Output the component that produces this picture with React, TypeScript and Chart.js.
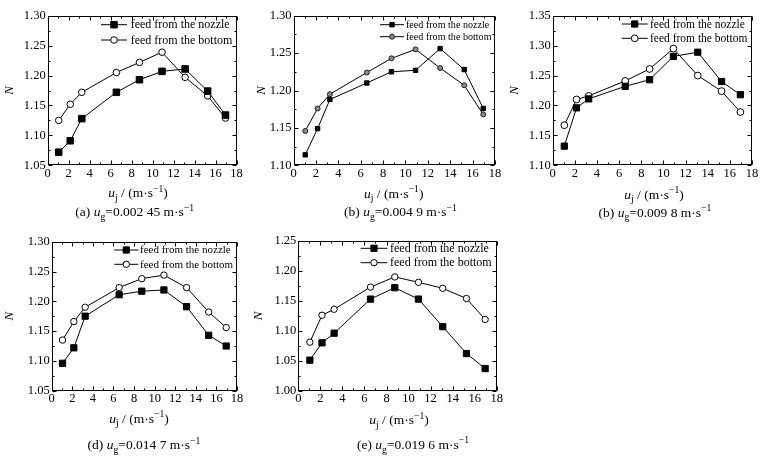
import React, { useEffect, useRef } from 'react';
import { Chart, registerables } from 'chart.js';

Chart.register(...registerables);

// ---------------- data ----------------
const UJ = [1.05, 2.15, 3.25, 6.55, 8.75, 10.9, 13.1, 15.25, 16.95];
const X_TICKS = [0, 2, 4, 6, 8, 10, 12, 14, 16, 18];
const SERIES_LABELS = ['feed from the nozzle', 'feed from the bottom'];
const PANEL_LETTERS = ['(a)', '(b)', '(b)', '(d)', '(e)'];
const UG_VALUES = ['0.002 45', '0.004 9', '0.009 8', '0.014 7', '0.019 6'];

const A_NOZZLE = [1.072, 1.091, 1.128, 1.172, 1.193, 1.207, 1.211, 1.174, 1.134];
const A_BOTTOM = [1.125, 1.152, 1.172, 1.205, 1.222, 1.239, 1.197, 1.166, 1.129];
const A_Y_TICKS = [1.05, 1.1, 1.15, 1.2, 1.25, 1.3];

const B_NOZZLE = [1.114, 1.149, 1.188, 1.21, 1.225, 1.227, 1.256, 1.228, 1.176];
const B_BOTTOM = [1.146, 1.176, 1.195, 1.224, 1.243, 1.255, 1.23, 1.207, 1.168];
const B_Y_TICKS = [1.1, 1.15, 1.2, 1.25, 1.3];

const C_NOZZLE = [1.132, 1.196, 1.211, 1.232, 1.243, 1.282, 1.289, 1.24, 1.218];
const C_BOTTOM = [1.167, 1.21, 1.216, 1.241, 1.261, 1.295, 1.25, 1.224, 1.189];
const C_Y_TICKS = [1.1, 1.15, 1.2, 1.25, 1.3, 1.35];

const D_NOZZLE = [1.096, 1.122, 1.175, 1.211, 1.217, 1.219, 1.191, 1.143, 1.125];
const D_BOTTOM = [1.135, 1.166, 1.19, 1.223, 1.238, 1.244, 1.223, 1.182, 1.156];
const D_Y_TICKS = [1.05, 1.1, 1.15, 1.2, 1.25, 1.3];

const E_NOZZLE = [1.051, 1.08, 1.096, 1.153, 1.172, 1.153, 1.107, 1.062, 1.037];
const E_BOTTOM = [1.081, 1.126, 1.136, 1.173, 1.19, 1.181, 1.171, 1.154, 1.119];
const E_Y_TICKS = [1.0, 1.05, 1.1, 1.15, 1.2, 1.25];

// ---------------- layout (styles / positions only) ----------------
const FONT = '"Liberation Serif", "Times New Roman", serif';

type PanelCfg = {
  idx: number;
  nozzle: number[];
  bottom: number[];
  yTicks: number[];
  box: { left: number; top: number; width: number; height: number };
  plot: { l: number; r: number; t: number; b: number };
  nX: number;
  legend: { l: number; r: number; m: number; tx: number; rows: [number, number]; font: number };
  titleCx: number;
  titleBase: number;
  capCx: number;
  capBase: number;
  sqR: number;
  circR: number;
  circFill: string;
  circBorder: string;
};

const PANELS: PanelCfg[] = [
  {
    idx: 0, nozzle: A_NOZZLE, bottom: A_BOTTOM, yTicks: A_Y_TICKS,
    box: { left: 0, top: 0, width: 252, height: 225 },
    plot: { l: 47.7, r: 236.5, t: 15.7, b: 165.3 },
    nX: 10,
    legend: { l: 101, r: 127, m: 114, tx: 130.7, rows: [24.7, 40], font: 12 },
    titleCx: 138, titleBase: 197, capCx: 134.7, capBase: 216,
    sqR: 4.6, circR: 3.3, circFill: '#ffffff', circBorder: '#000000',
  },
  {
    idx: 1, nozzle: B_NOZZLE, bottom: B_BOTTOM, yTicks: B_Y_TICKS,
    box: { left: 252, top: 0, width: 252, height: 225 },
    plot: { l: 293.5, r: 495, t: 15.7, b: 165.3 },
    nX: 262,
    legend: { l: 380, r: 404, m: 392, tx: 406, rows: [24.7, 36.7], font: 10.1 },
    titleCx: 393.7, titleBase: 197.5, capCx: 400.5, capBase: 216,
    sqR: 3.1, circR: 2.5, circFill: '#8a8a8a', circBorder: '#222222',
  },
  {
    idx: 2, nozzle: C_NOZZLE, bottom: C_BOTTOM, yTicks: C_Y_TICKS,
    box: { left: 504, top: 0, width: 259, height: 225 },
    plot: { l: 552.7, r: 752, t: 15.7, b: 165.3 },
    nX: 515,
    legend: { l: 621.7, r: 647.7, m: 634.7, tx: 650, rows: [24, 38.3], font: 11.5 },
    titleCx: 654, titleBase: 198.5, capCx: 655, capBase: 216.5,
    sqR: 4.4, circR: 3.4, circFill: '#ffffff', circBorder: '#000000',
  },
  {
    idx: 3, nozzle: D_NOZZLE, bottom: D_BOTTOM, yTicks: D_Y_TICKS,
    box: { left: 0, top: 225, width: 252, height: 236 },
    plot: { l: 51.7, r: 237, t: 241.7, b: 390.7 },
    nX: 10,
    legend: { l: 114.3, r: 138.3, m: 126.3, tx: 140, rows: [250, 264.3], font: 11 },
    titleCx: 139, titleBase: 422.7, capCx: 144, capBase: 449.3,
    sqR: 4.4, circR: 3.2, circFill: '#ffffff', circBorder: '#000000',
  },
  {
    idx: 4, nozzle: E_NOZZLE, bottom: E_BOTTOM, yTicks: E_Y_TICKS,
    box: { left: 252, top: 225, width: 252, height: 236 },
    plot: { l: 298.3, r: 499.3, t: 241, b: 390.7 },
    nX: 259,
    legend: { l: 360.7, r: 387.3, m: 374, tx: 390, rows: [248.3, 262.7], font: 12 },
    titleCx: 399, titleBase: 424, capCx: 413, capBase: 448.8,
    sqR: 4.4, circR: 3.2, circFill: '#ffffff', circBorder: '#000000',
  },
];

type Seg = { t: string; it?: boolean; sub?: boolean; sup?: boolean };

function drawRich(ctx: CanvasRenderingContext2D, segs: Seg[], cx: number, baseY: number, size: number) {
  const fontFor = (s: Seg) =>
    `${s.it ? 'italic ' : ''}${s.sub || s.sup ? size * 0.72 : size}px ${FONT}`;
  const widths: number[] = [];
  let total = 0;
  for (const s of segs) {
    ctx.font = fontFor(s);
    const w = ctx.measureText(s.t).width;
    widths.push(w);
    total += w;
  }
  let x = cx - total / 2;
  ctx.textAlign = 'left';
  ctx.textBaseline = 'alphabetic';
  ctx.fillStyle = '#000';
  segs.forEach((s, i) => {
    ctx.font = fontFor(s);
    const y = baseY + (s.sub ? size * 0.28 : s.sup ? -size * 0.4 : 0);
    ctx.fillText(s.t, x, y);
    x += widths[i];
  });
}

function drawMarker(ctx: CanvasRenderingContext2D, kind: 'rect' | 'circle', x: number, y: number, r: number, fill: string, stroke: string) {
  ctx.save();
  ctx.fillStyle = fill;
  ctx.strokeStyle = stroke;
  ctx.lineWidth = 1;
  ctx.beginPath();
  if (kind === 'rect') {
    const h = r * Math.SQRT1_2;
    ctx.rect(x - h, y - h, 2 * h, 2 * h);
  } else {
    ctx.arc(x, y, r, 0, Math.PI * 2);
  }
  ctx.fill();
  ctx.stroke();
  ctx.restore();
}

function makeDecor(cfg: PanelCfg) {
  const ox = cfg.box.left;
  const oy = cfg.box.top;
  return {
    id: 'panelDecor' + cfg.idx,
    afterDraw(chart: any) {
      const ctx: CanvasRenderingContext2D = chart.ctx;
      const { left, right, top, bottom } = chart.chartArea;
      const xs = chart.scales.x;
      const ys = chart.scales.y;
      ctx.save();
      ctx.strokeStyle = '#000';
      ctx.lineWidth = 1;
      const L = Math.round(left) + 0.5;
      const R = Math.round(right) - 0.5;
      const T = Math.round(top) + 0.5;
      const B = Math.round(bottom) - 0.5;
      ctx.strokeRect(L, T, R - L, B - T);
      // ticks (inward), majors + minors at midpoints
      ctx.beginPath();
      const xt = xs.ticks.map((t: any) => t.value);
      xt.forEach((v: number, i: number) => {
        const px = Math.round(xs.getPixelForValue(v)) + 0.5;
        ctx.moveTo(px, B); ctx.lineTo(px, B - 4);
        ctx.moveTo(px, T); ctx.lineTo(px, T + 4);
        if (i < xt.length - 1) {
          const mx = Math.round(xs.getPixelForValue((v + xt[i + 1]) / 2)) + 0.5;
          ctx.moveTo(mx, B); ctx.lineTo(mx, B - 2);
          ctx.moveTo(mx, T); ctx.lineTo(mx, T + 2);
        }
      });
      const yt = ys.ticks.map((t: any) => t.value);
      yt.forEach((v: number, i: number) => {
        const py = Math.round(ys.getPixelForValue(v)) + 0.5;
        ctx.moveTo(L, py); ctx.lineTo(L + 4, py);
        ctx.moveTo(R, py); ctx.lineTo(R - 4, py);
        if (i < yt.length - 1) {
          const my = Math.round(ys.getPixelForValue((v + yt[i + 1]) / 2)) + 0.5;
          ctx.moveTo(L, my); ctx.lineTo(L + 2, my);
          ctx.moveTo(R, my); ctx.lineTo(R - 2, my);
        }
      });
      ctx.stroke();

      // legend
      const lg = cfg.legend;
      const kinds: ('rect' | 'circle')[] = ['rect', 'circle'];
      chart.data.datasets.forEach((ds: any, i: number) => {
        const y = lg.rows[i] - oy;
        ctx.beginPath();
        ctx.strokeStyle = ds.borderColor;
        ctx.lineWidth = 1;
        ctx.moveTo(lg.l - ox, y);
        ctx.lineTo(lg.r - ox, y);
        ctx.stroke();
        drawMarker(ctx, kinds[i], lg.m - ox, y, ds.pointRadius, ds.pointBackgroundColor, ds.pointBorderColor);
        ctx.fillStyle = '#000';
        ctx.font = `${lg.font}px ${FONT}`;
        ctx.textAlign = 'left';
        ctx.textBaseline = 'middle';
        ctx.fillText(ds.label, lg.tx - ox, y + 0.5);
      });

      // x-axis title and caption
      drawRich(ctx, [
        { t: 'u', it: true },
        { t: 'j', sub: true },
        { t: ' / (m·s' },
        { t: '−1', sup: true },
        { t: ')' },
      ], cfg.titleCx - ox, cfg.titleBase - oy, 13.5);
      drawRich(ctx, [
        { t: PANEL_LETTERS[cfg.idx] + ' ' },
        { t: 'u', it: true },
        { t: 'g', sub: true },
        { t: '=' + UG_VALUES[cfg.idx] + ' m·s' },
        { t: '−1', sup: true },
      ], cfg.capCx - ox, cfg.capBase - oy, 13.5);
      ctx.restore();
    },
  };
}

function Panel({ cfg }: { cfg: PanelCfg }) {
  const ref = useRef<HTMLCanvasElement | null>(null);
  useEffect(() => {
    const canvas = ref.current;
    if (!canvas) return;
    const { box, plot } = cfg;
    const yAxisW = plot.l - box.left;
    const xAxisH = 20;
    const padTop = plot.t - box.top;
    const padRight = box.left + box.width - plot.r;
    const padBottom = box.top + box.height - plot.b - xAxisH;
    const nTitlePad = cfg.nX - box.left - 13 * 1.2 / 2;

    const chart = new Chart(canvas, {
      type: 'line',
      data: {
        datasets: [
          {
            label: SERIES_LABELS[0],
            data: UJ.map((x, i) => ({ x, y: cfg.nozzle[i] })),
            borderColor: '#000000',
            borderWidth: 1,
            pointStyle: 'rect',
            pointRadius: cfg.sqR,
            pointBackgroundColor: '#000000',
            pointBorderColor: '#000000',
            pointBorderWidth: 1,
            tension: 0,
            fill: false,
          },
          {
            label: SERIES_LABELS[1],
            data: UJ.map((x, i) => ({ x, y: cfg.bottom[i] })),
            borderColor: '#000000',
            borderWidth: 1,
            pointStyle: 'circle',
            pointRadius: cfg.circR,
            pointBackgroundColor: cfg.circFill,
            pointBorderColor: cfg.circBorder,
            pointBorderWidth: 1,
            tension: 0,
            fill: false,
          },
        ],
      },
      options: {
        responsive: false,
        animation: false,
        devicePixelRatio: 1,
        layout: { padding: { left: 0, top: padTop, right: padRight, bottom: padBottom } },
        plugins: { legend: { display: false }, tooltip: { enabled: false }, title: { display: false } },
        scales: {
          x: {
            type: 'linear',
            min: 0,
            max: 18,
            grid: { display: false, drawTicks: false },
            border: { display: false },
            ticks: { color: '#000', padding: 1, font: { family: FONT, size: 12.5 }, maxRotation: 0 },
            afterBuildTicks: (s: any) => { s.ticks = X_TICKS.map((v) => ({ value: v })); },
            afterFit: (s: any) => { s.height = xAxisH; },
          },
          y: {
            type: 'linear',
            min: cfg.yTicks[0],
            max: cfg.yTicks[cfg.yTicks.length - 1],
            grid: { display: false, drawTicks: false },
            border: { display: false },
            ticks: {
              color: '#000', padding: 2, font: { family: FONT, size: 12.5 },
              callback: (v: any) => Number(v).toFixed(2),
            },
            afterBuildTicks: (s: any) => { s.ticks = cfg.yTicks.map((v) => ({ value: v })); },
            afterFit: (s: any) => { s.width = yAxisW; },
            title: {
              display: true,
              text: 'N',
              color: '#000',
              font: { family: FONT, size: 13, style: 'italic' },
              padding: { top: nTitlePad, bottom: 0 },
            },
          },
        },
      },
      plugins: [makeDecor(cfg)],
    } as any);
    return () => chart.destroy();
  }, [cfg]);
  const { box } = cfg;
  return (
    <div style={{ position: 'absolute', left: box.left, top: box.top, width: box.width, height: box.height }}>
      <canvas ref={ref} width={box.width} height={box.height} style={{ display: 'block', width: box.width, height: box.height }} />
    </div>
  );
}

export default function App() {
  return (
    <div style={{ position: 'fixed', left: 0, top: 0, width: 763, height: 461, background: '#ffffff', overflow: 'hidden' }}>
      {PANELS.map((p) => (
        <Panel key={p.idx} cfg={p} />
      ))}
    </div>
  );
}
